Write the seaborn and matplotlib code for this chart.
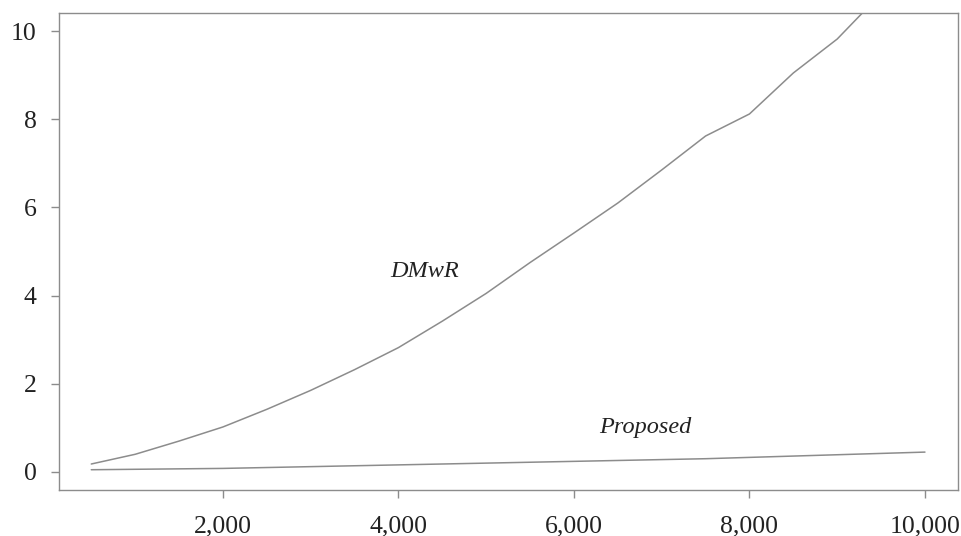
import seaborn as sns
import matplotlib.pyplot as plt
import pandas as pd
from matplotlib import ticker

# data
sizes = [500, 1000, 1500, 2000, 2500, 3000, 3500, 4000, 4500, 5000,
         5500, 6000, 6500, 7000, 7500, 8000, 8500, 9000, 9500, 10000]
dmwr = [0.18, 0.40, 0.70, 1.02, 1.42, 1.85, 2.32, 2.82, 3.42, 4.05,
        4.75, 5.42, 6.10, 6.85, 7.62, 8.12, 9.05, 9.82, 10.85, 11.9]
proposed = [0.05, 0.06, 0.07, 0.08, 0.10, 0.12, 0.14, 0.16, 0.18, 0.20,
            0.22, 0.24, 0.26, 0.28, 0.30, 0.33, 0.36, 0.39, 0.42, 0.45]

df = pd.DataFrame({"size": sizes * 2,
                   "time": dmwr + proposed,
                   "method": ["DMwR"] * len(sizes) + ["Proposed"] * len(sizes)})

sns.set_style("white")
plt.rcParams['font.family'] = ['Liberation Serif', 'DejaVu Serif']

fig = plt.figure(figsize=(9.62, 5.36), dpi=100)
ax = fig.add_axes([0.0613, 0.0858, 0.9345, 0.8899])

sns.lineplot(data=df, x="size", y="time", hue="method",
             palette={"DMwR": "#8c8c8c", "Proposed": "#8c8c8c"},
             linewidth=1.1, legend=False, ax=ax)

ax.set_xlim(132, 10376)
ax.set_ylim(-0.41, 10.41)
ax.set_xticks([2000, 4000, 6000, 8000, 10000])
ax.set_yticks([0, 2, 4, 6, 8, 10])
ax.xaxis.set_major_formatter(ticker.StrMethodFormatter("{x:,.0f}"))
ax.set_xlabel("")
ax.set_ylabel("")

for s in ax.spines.values():
    s.set_color("#8c8c8c")
    s.set_linewidth(1.0)
ax.tick_params(axis="both", bottom=True, left=True, direction="out",
               length=6, width=1, labelsize=18.5, pad=10,
               labelcolor="#222222", color="#8c8c8c")
ax.tick_params(axis="x", pad=12)

ax.text(4300, 4.55, "DMwR", fontsize=17.5, style="italic",
        ha="center", va="center", color="#222222")
ax.text(6815, 1.0, "Proposed", fontsize=17.5, style="italic",
        ha="center", va="center", color="#222222")

fig.savefig("out.png", dpi=100)
